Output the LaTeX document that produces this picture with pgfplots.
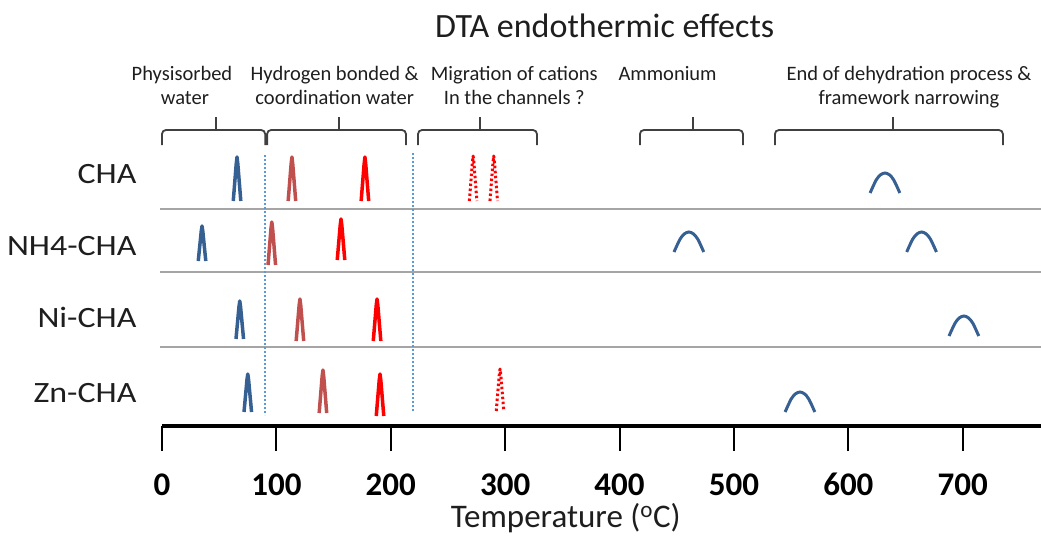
\documentclass[border=0pt]{standalone}
\usepackage{pgfplots}
\pgfplotsset{compat=1.18}
\usepackage{fontspec}
\setmainfont{Carlito}
\newfontfamily\rowfont[FakeStretch=1.15]{Carlito}
\definecolor{peakblue}{RGB}{55,96,146}
\definecolor{peakbrown}{RGB}{192,80,77}
\definecolor{peakred}{RGB}{255,0,0}
\definecolor{sepgray}{RGB}{165,165,165}
\definecolor{dashblue}{RGB}{91,155,213}
\definecolor{bracegray}{RGB}{64,64,64}
\definecolor{txt}{RGB}{30,30,30}
\tikzset{brace/.style={bracegray, line width=1.8pt, rounded corners=4pt}}
\begin{document}
\begin{tikzpicture}
\begin{axis}[
  scale only axis, width=879pt, height=300pt,
  xmin=0, xmax=768.4, ymin=0, ymax=300,
  axis y line=none, axis x line*=bottom,
  x axis line style={line width=3.5pt, black, -},
  xtick={0,100,200,300,400,500,600,700},
  xticklabels={0,100,200,300,400,500,600,700},
  tick align=outside, major tick length=25pt,
  x tick style={line width=2pt, black},
  xticklabel style={font=\bfseries\fontsize{33}{33}\selectfont, text=black, anchor=base, yshift=-44pt},
  clip=false,
  narrow/.style={line width=3.5pt, line join=round, no markers},
  wide/.style={line width=3pt, smooth, no markers, color=peakblue},
  dotpk/.style={line width=3pt, line join=round, no markers, color=peakred, dash pattern=on 2.5pt off 2.5pt},
]
% separators
\addplot[sepgray, line width=2.5pt] coordinates {(-1.5,217) (768.4,217)};
\addplot[sepgray, line width=2.5pt] coordinates {(-1.5,154) (768.4,154)};
\addplot[sepgray, line width=2.5pt] coordinates {(-1.5,79) (768.4,79)};
% dashed region limits
\addplot[dashblue, line width=1.5pt, dash pattern=on 2pt off 2pt] coordinates {(90,271) (90,11)};
\addplot[dashblue, line width=1.5pt, dash pattern=on 2pt off 2pt] coordinates {(219.4,273) (219.4,14)};
% CHA
\addplot[narrow, peakblue] coordinates {(62.3,225) (64.9,262) (65.6,269) (66.3,262) (68.9,225)};
\addplot[narrow, peakbrown] coordinates {(110.3,225) (112.9,262) (113.6,269) (114.3,262) (116.9,225)};
\addplot[narrow, peakred] coordinates {(174.1,225) (176.7,262) (177.4,269) (178.1,262) (180.7,225)};
\addplot[dotpk] coordinates {(268.7,225) (271.3,263) (272,270) (272.7,263) (275.3,225)};
\addplot[dotpk] coordinates {(286.7,225) (289.3,263) (290,270) (290.7,263) (293.3,225)};
\addplot[wide] coordinates {(619,233) (624.2,245.8) (628.1,251.2) (632,253) (635.9,251.2) (639.8,245.8) (645,233)};
% NH4-CHA
\addplot[narrow, peakblue] coordinates {(31.7,165) (34.3,194.5) (35,200) (35.7,194.5) (38.3,165)};
\addplot[narrow, peakbrown] coordinates {(92.7,161) (95.3,197.5) (96,204) (96.7,197.5) (99.3,161)};
\addplot[narrow, peakred] coordinates {(153.2,166) (155.8,200.8) (156.5,207) (157.2,200.8) (159.8,166)};
\addplot[wide] coordinates {(447.6,174) (452.8,186.8) (456.7,192.2) (460.6,194) (464.5,192.2) (468.4,186.8) (473.6,174)};
\addplot[wide] coordinates {(651,174) (656.2,186.8) (660.1,192.2) (664,194) (667.9,192.2) (671.8,186.8) (677,174)};
% Ni-CHA
\addplot[narrow, peakblue] coordinates {(64.7,87) (67.3,119.3) (68,125) (68.7,119.3) (71.3,87)};
\addplot[narrow, peakbrown] coordinates {(117.3,85) (119.9,120.7) (120.6,127) (121.3,120.7) (123.9,85)};
\addplot[narrow, peakred] coordinates {(184.7,85) (187.3,120.7) (188,127) (188.7,120.7) (191.3,85)};
\addplot[wide] coordinates {(688,90) (693.2,102.8) (697.1,108.2) (701,110) (704.9,108.2) (708.8,102.8) (714,90)};
% Zn-CHA
\addplot[narrow, peakblue] coordinates {(71.7,14) (74.3,46.3) (75,52) (75.7,46.3) (78.3,14)};
\addplot[narrow, peakbrown] coordinates {(137.4,13) (140,49.5) (140.7,56) (141.4,49.5) (144,13)};
\addplot[narrow, peakred] coordinates {(187.3,10) (189.9,45.7) (190.6,52) (191.3,45.7) (193.9,10)};
\addplot[dotpk] coordinates {(292.2,15) (294.8,50.7) (295.5,57) (296.2,50.7) (298.8,15)};
\addplot[wide] coordinates {(544.7,14) (549.9,26.8) (553.8,32.2) (557.7,34) (561.6,32.2) (565.5,26.8) (570.7,14)};
% braces
\draw[brace] (axis cs:0,281) -- (axis cs:0,296) -- (axis cs:90.2,296) -- (axis cs:90.2,281);
\draw[brace] (axis cs:47.2,296) -- (axis cs:47.2,309);
\draw[brace] (axis cs:91.9,281) -- (axis cs:91.9,296) -- (axis cs:213.3,296) -- (axis cs:213.3,281);
\draw[brace] (axis cs:154.7,296) -- (axis cs:154.7,309);
\draw[brace] (axis cs:223.8,281) -- (axis cs:223.8,296) -- (axis cs:327.8,296) -- (axis cs:327.8,281);
\draw[brace] (axis cs:278,296) -- (axis cs:278,309);
\draw[brace] (axis cs:417.8,281) -- (axis cs:417.8,296) -- (axis cs:507.9,296) -- (axis cs:507.9,281);
\draw[brace] (axis cs:464,296) -- (axis cs:464,309);
\draw[brace] (axis cs:535.8,281) -- (axis cs:535.8,296) -- (axis cs:735.1,296) -- (axis cs:735.1,281);
\draw[brace] (axis cs:639,296) -- (axis cs:639,309);
% texts
\node[txt, anchor=base, font=\fontsize{34}{34}\selectfont] at (axis cs:387,388) {DTA endothermic effects};
\node[txt, anchor=base, font=\fontsize{20.5}{20.5}\selectfont] at (axis cs:17.5,346) {Physisorbed};
\node[txt, anchor=base, font=\fontsize{20.5}{20.5}\selectfont] at (axis cs:20,322) {water};
\node[txt, anchor=base, font=\fontsize{20.5}{20.5}\selectfont] at (axis cs:151,346) {Hydrogen bonded \&};
\node[txt, anchor=base, font=\fontsize{20.5}{20.5}\selectfont] at (axis cs:151,322) {coordination water};
\node[txt, anchor=base, font=\fontsize{20.5}{20.5}\selectfont] at (axis cs:308,346) {Migration of cations};
\node[txt, anchor=base, font=\fontsize{20.5}{20.5}\selectfont] at (axis cs:308,322) {In the channels ?};
\node[txt, anchor=base, font=\fontsize{20.5}{20.5}\selectfont] at (axis cs:442,346) {Ammonium};
\node[txt, anchor=base, font=\fontsize{20.5}{20.5}\selectfont] at (axis cs:653,346) {End of dehydration process \&};
\node[txt, anchor=base, font=\fontsize{20.5}{20.5}\selectfont] at (axis cs:653,322) {framework narrowing};
\node[txt, anchor=base east, font=\rowfont\fontsize{29.5}{29.5}\selectfont] at (axis cs:-19.2,243) {CHA};
\node[txt, anchor=base east, font=\rowfont\fontsize{29.5}{29.5}\selectfont] at (axis cs:-19.2,171) {NH4-CHA};
\node[txt, anchor=base east, font=\rowfont\fontsize{29.5}{29.5}\selectfont] at (axis cs:-19.2,99) {Ni-CHA};
\node[txt, anchor=base east, font=\rowfont\fontsize{29.5}{29.5}\selectfont] at (axis cs:-19.2,24) {Zn-CHA};
\node[txt, anchor=base, font=\fontsize{33}{33}\selectfont] at (axis cs:353,-101) {Temperature (\textsuperscript{o}C)};
\coordinate (BL) at (axis cs:-141.6,-110);
\coordinate (TR) at (axis cs:768.4,426);
\end{axis}
\pgfresetboundingbox
\path[use as bounding box] (BL) rectangle (TR);
\end{tikzpicture}
\end{document}
